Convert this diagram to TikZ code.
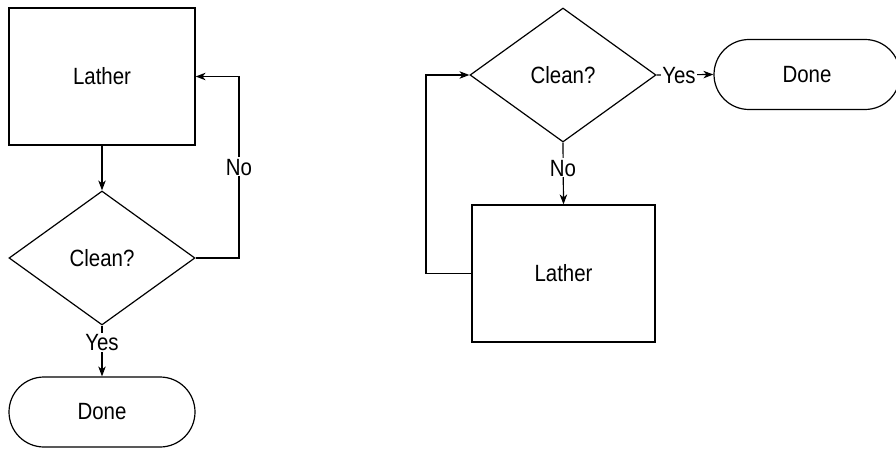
\documentclass[tikz,border=0pt]{standalone}
\usepackage{fontspec}
\setmainfont{Liberation Sans}[FakeStretch=0.87]
\usetikzlibrary{shapes.geometric,arrows.meta}
\begin{document}
\begin{tikzpicture}[x=1pt,y=-1pt,
  every node/.style={font=\fontsize{23.5}{28}\selectfont},
  box/.style={draw,line width=1.2pt,rectangle,inner sep=0pt},
  decision/.style={draw,line width=1.2pt,diamond,inner sep=0pt,minimum width=186pt,minimum height=134pt},
  term/.style={draw,line width=1.2pt,rectangle,rounded corners=35pt,inner sep=0pt,minimum width=186pt,minimum height=70pt},
  conn/.style={line width=1.2pt,-{Stealth[length=10pt,width=7.5pt,inset=3pt]}},
  lbl/.style={fill=white,inner sep=1pt,text height=17pt,text depth=0pt}]
\useasboundingbox (0,0) rectangle (896,449);
\clip (0,0) rectangle (896,449);
% left flowchart
\node[box,minimum width=186pt,minimum height=137pt] (L1) at (102,76.5) {Lather};
\node[decision] (D1) at (102,258) {Clean?};
\node[term] (E1) at (102,412) {Done};
\coordinate (c1) at (239,258);
\draw[conn] (L1.south) -- (D1.north);
\draw[conn] (D1.east) -- (c1) |- (L1.east);
\draw[conn] (D1.south) -- (E1.north);
\node[lbl] (n1) at (239,167) {No};
\node[lbl] (y1) at (102,342) {Yes};
% right flowchart
\node[decision] (D2) at (563,75) {Clean?};
\node[term] (E2) at (807,74.5) {Done};
\node[box,minimum width=183pt,minimum height=137pt] (L2) at (563.5,273.5) {Lather};
\coordinate (c2) at (426,273.5);
\draw[conn] (D2.east) -- (E2.west);
\draw[conn] (D2.south) -- (L2.north);
\draw[conn] (L2.west) -- (c2) |- (D2.west);
\node[lbl] (y2) at (679,75) {Yes};
\node[lbl] (n2) at (563,168) {No};
\end{tikzpicture}
\end{document}
